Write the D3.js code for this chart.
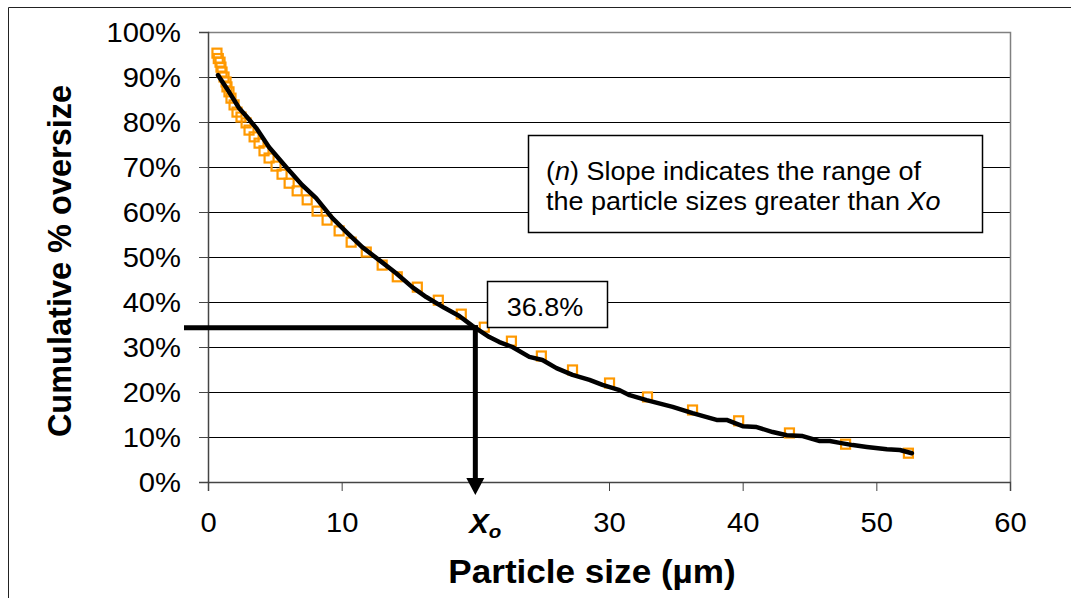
<!DOCTYPE html>
<html>
<head>
<meta charset="utf-8">
<title>cumulative oversize</title>
<style>
	body { margin: 0; background: #fff; }
	svg text { font-family: "Liberation Sans", Arial, sans-serif; }
</style>
</head>
<body>
<div class="chart"></div>
<script src="https://cdn.jsdelivr.net/npm/d3@7"></script>
<script>
	// measured points (orange squares): particle size in µm, cumulative oversize fraction
	let sizes = [0.67, 0.77, 0.9, 0.97, 1.05, 1.2, 1.35, 1.42, 1.57, 1.72, 1.95, 2.17, 2.47, 2.85, 3.07,
		3.45, 3.82, 4.19, 4.57, 5.09, 5.54, 6.07, 6.67, 7.42, 8.16, 8.91, 9.81, 10.71, 11.84, 13.03,
		14.16, 15.66, 17.23, 18.95, 20.67, 22.7, 24.94, 27.27, 30.04, 32.88, 36.25, 39.7, 43.5, 47.7, 52.4];
	let oversize = [0.953, 0.941, 0.933, 0.922, 0.911, 0.900, 0.889, 0.878, 0.867, 0.853, 0.838, 0.822, 0.811, 0.798, 0.782,
		0.767, 0.753, 0.736, 0.720, 0.702, 0.684, 0.664, 0.647, 0.627, 0.602, 0.582, 0.558, 0.533, 0.511, 0.482,
		0.456, 0.433, 0.404, 0.373, 0.344, 0.313, 0.280, 0.249, 0.220, 0.189, 0.160, 0.136, 0.109, 0.084, 0.064];

	// fitted curve (black line)
	let fitSizes = [0.75, 1.57, 2.32, 2.92, 3.6, 4.57, 5.84, 7.04, 8.09, 9.29, 10.34, 11.54, 12.81, 14.08, 15.28,
		16.33, 17.68, 18.8, 19.78, 21.05, 21.8, 22.77, 24.04, 25.02, 26.07, 27.27, 28.54, 29.51, 30.79, 31.54,
		32.81, 34.76, 36.25, 38.05, 38.8, 40.0, 41.05, 42.25, 43.3, 44.49, 45.77, 46.52, 47.27, 48.24, 49.29,
		50.79, 51.76, 52.66];
	let fitValues = [0.904, 0.867, 0.831, 0.811, 0.787, 0.744, 0.700, 0.660, 0.631, 0.587, 0.556, 0.522, 0.493, 0.464, 0.433,
		0.411, 0.387, 0.369, 0.347, 0.322, 0.311, 0.300, 0.278, 0.271, 0.253, 0.238, 0.227, 0.216, 0.204, 0.193,
		0.182, 0.167, 0.153, 0.138, 0.138, 0.124, 0.122, 0.111, 0.104, 0.102, 0.091, 0.091, 0.087, 0.082, 0.078,
		0.073, 0.071, 0.064];

	let xTicks = [0, 10, 20, 30, 40, 50, 60];
	let yTicks = [0, 0.1, 0.2, 0.3, 0.4, 0.5, 0.6, 0.7, 0.8, 0.9, 1.0];

	// Xo marker
	let xo = 20;
	let yo = 0.343;
	let xoLabel = "36.8%";
	let noteLines = ["Slope indicates the range of", "the particle sizes greater than "];

	window.onload = function(){
		drawChart();
	}

	function drawChart(){
		let width = 1071;
		let height = 598;
		let plot = {"left": 208, "right": 1010, "top": 32, "bottom": 482};
		let stretch = 1.08;

		let svg = d3.select(".chart").append("svg")
			.attr("width", width)
			.attr("height", height);

		// outer frame
		svg.append("path")
			.attr("d", "M8.5," + height + "V7.5H" + width)
			.attr("fill", "none")
			.attr("stroke", "#222")
			.attr("stroke-width", 1);

		let scaleX = d3.scaleLinear().domain([0, 60]).range([plot.left, plot.right]);
		let scaleY = d3.scaleLinear().domain([0, 1]).range([plot.bottom, plot.top]);

		// gridlines
		svg.append("g")
			.selectAll("line")
			.data(yTicks.filter(d => d > 0 && d < 1))
			.enter()
			.append("line")
			.attr("x1", plot.left)
			.attr("x2", plot.right)
			.attr("y1", d => Math.round(scaleY(d)) + 0.5)
			.attr("y2", d => Math.round(scaleY(d)) + 0.5)
			.attr("stroke", "#000")
			.attr("stroke-width", 1);

		// plot border (top, right)
		svg.append("path")
			.attr("d", "M" + plot.left + "," + (plot.top + 0.5) + "H" + (plot.right + 0.5) + "V" + plot.bottom)
			.attr("fill", "none")
			.attr("stroke", "#808080")
			.attr("stroke-width", 1.5);

		// axes
		let axisY = d3.axisLeft(scaleY)
			.tickValues(yTicks)
			.tickSize(9)
			.tickFormat(d3.format(".0%"));
		let gy = svg.append("g")
			.attr("transform", "translate(" + plot.left + ",0)")
			.call(axisY);
		gy.select(".domain").attr("stroke", "#444").attr("stroke-width", 1.5);
		gy.selectAll(".tick line").attr("stroke", "#444");
		gy.selectAll(".tick text")
			.attr("x", -25)
			.attr("dy", "0.36em")
			.attr("transform", "scale(" + stretch + ",1)")
			.attr("font-size", 27)
			.attr("fill", "#000");

		let axisX = d3.axisBottom(scaleX)
			.tickValues(xTicks)
			.tickSize(9)
			.tickFormat(d => d === xo ? "" : d);
		let gx = svg.append("g")
			.attr("transform", "translate(0," + plot.bottom + ")")
			.call(axisX);
		gx.select(".domain").attr("stroke", "#444").attr("stroke-width", 1.5);
		gx.selectAll(".tick line").attr("stroke", "#444");
		gx.selectAll(".tick text")
			.attr("y", 50)
			.attr("dy", 0)
			.attr("transform", "scale(" + stretch + ",1)")
			.attr("font-size", 27)
			.attr("fill", "#000");

		// Xo label under the axis
		let xoText = svg.append("text")
			.attr("transform", "translate(" + (scaleX(xo) - 6) + "," + (plot.bottom + 51) + ") scale(" + stretch + ",1)")
			.attr("text-anchor", "start")
			.attr("font-size", 27)
			.attr("font-weight", "bold")
			.attr("font-style", "italic");
		xoText.append("tspan").text("X");
		xoText.append("tspan").attr("font-size", 19).attr("dy", 5).text("o");

		// axis titles
		svg.append("text")
			.attr("transform", "translate(" + 592 + "," + 583 + ") scale(" + stretch + ",1)")
			.attr("text-anchor", "middle")
			.attr("font-size", 32.5)
			.attr("font-weight", "bold")
			.text("Particle size (µm)");
		svg.append("text")
			.attr("transform", "translate(" + 71 + "," + 261 + ") rotate(-90)")
			.attr("text-anchor", "middle")
			.attr("font-size", 32.5)
			.attr("font-weight", "bold")
			.text("Cumulative % oversize");

		// measured points
		let points = sizes.map((s, i) => ({"x": s, "y": oversize[i]}));
		svg.append("g")
			.selectAll("rect")
			.data(points)
			.enter()
			.append("rect")
			.attr("x", d => scaleX(d.x) - 4.5)
			.attr("y", d => scaleY(d.y) - 4.5)
			.attr("width", 9)
			.attr("height", 9)
			.attr("fill", "none")
			.attr("stroke", "#FF9900")
			.attr("stroke-width", 2.2);

		// fitted line
		let fit = fitSizes.map((s, i) => ({"x": s, "y": fitValues[i]}));
		let line = d3.line().x(d => scaleX(d.x)).y(d => scaleY(d.y));
		svg.append("path")
			.datum(fit)
			.attr("d", line)
			.attr("fill", "none")
			.attr("stroke", "#000")
			.attr("stroke-width", 4.5)
			.attr("stroke-linejoin", "round")
			.attr("stroke-linecap", "round");

		// Xo guide lines and arrow
		let gxo = scaleX(xo);
		let gyo = scaleY(yo);
		svg.append("line")
			.attr("x1", 184)
			.attr("x2", gxo + 2.5)
			.attr("y1", gyo)
			.attr("y2", gyo)
			.attr("stroke", "#000")
			.attr("stroke-width", 5);
		svg.append("line")
			.attr("x1", gxo)
			.attr("x2", gxo)
			.attr("y1", gyo - 2.5)
			.attr("y2", plot.bottom - 3)
			.attr("stroke", "#000")
			.attr("stroke-width", 5);
		svg.append("path")
			.attr("d", "M" + (gxo - 9) + "," + (plot.bottom - 4) + "L" + (gxo + 9) + "," + (plot.bottom - 4) + "L" + gxo + "," + (plot.bottom + 13) + "Z")
			.attr("fill", "#000");

		// 36.8% box
		svg.append("rect")
			.attr("x", 487.5)
			.attr("y", 281.5)
			.attr("width", 120)
			.attr("height", 46)
			.attr("fill", "#fff")
			.attr("stroke", "#000")
			.attr("stroke-width", 1.5);
		svg.append("text")
			.attr("transform", "translate(" + 545 + "," + 316 + ") scale(" + stretch + ",1)")
			.attr("text-anchor", "middle")
			.attr("font-size", 25)
			.text(xoLabel);

		// slope note box
		svg.append("rect")
			.attr("x", 528.5)
			.attr("y", 135.5)
			.attr("width", 454)
			.attr("height", 97)
			.attr("fill", "#fff")
			.attr("stroke", "#000")
			.attr("stroke-width", 1.5);
		let l1 = svg.append("text")
			.attr("transform", "translate(" + 546 + "," + 180 + ") scale(" + stretch + ",1)")
			.attr("font-size", 25);
		l1.append("tspan").text("(");
		l1.append("tspan").attr("font-style", "italic").text("n");
		l1.append("tspan").text(") " + noteLines[0]);
		let l2 = svg.append("text")
			.attr("transform", "translate(" + 546 + "," + 210 + ") scale(" + stretch + ",1)")
			.attr("font-size", 25);
		l2.append("tspan").text(noteLines[1]);
		l2.append("tspan").attr("font-style", "italic").text("Xo");
	}
</script>
</body>
</html>
